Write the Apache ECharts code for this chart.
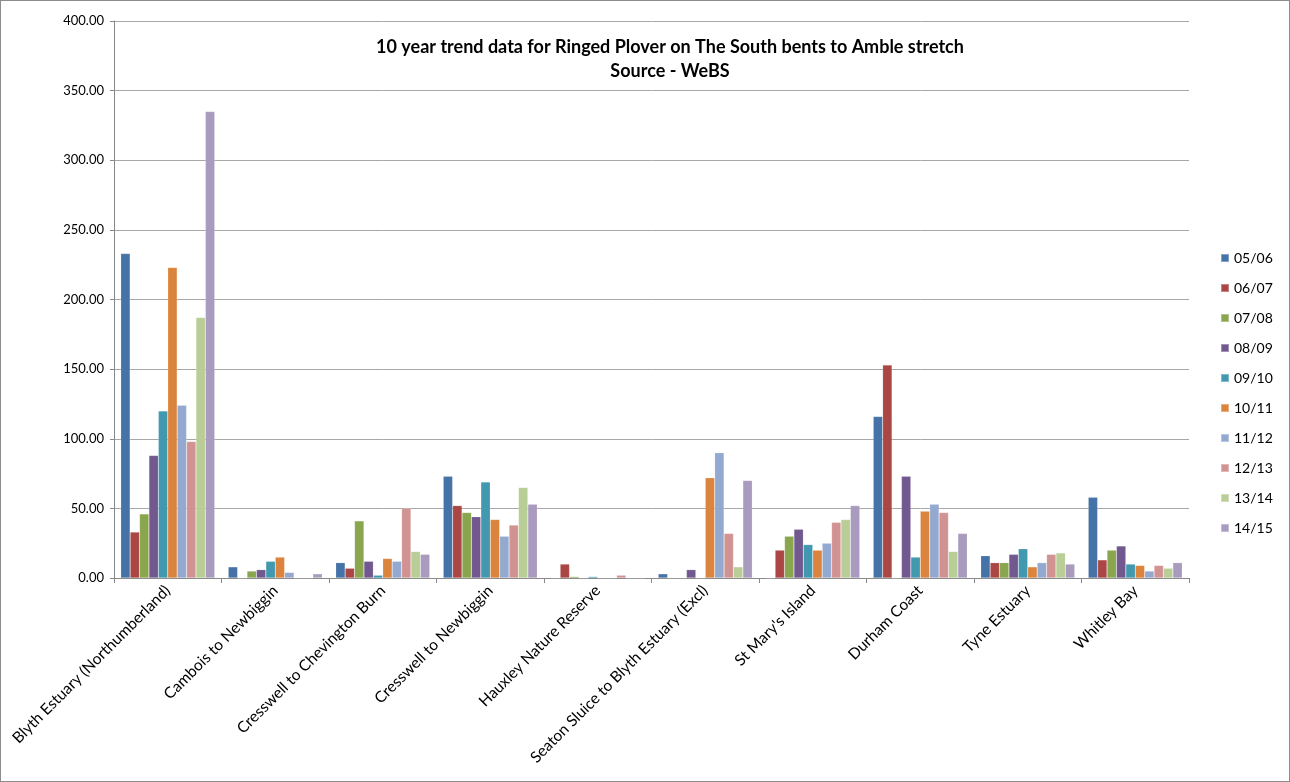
<!DOCTYPE html>
<html>
<head>
<meta charset="utf-8">
<script src="https://cdn.jsdelivr.net/npm/echarts@6/dist/echarts.min.js"></script>
<style>
  html, body { margin: 0; padding: 0; background: #fff; }
  #chart { width: 1288px; height: 780px; border: 1px solid #8c8c8c; }
</style>
</head>
<body>
<div id="chart"></div>
<script>
// Survey sites along the stretch
const sites = [
  'Blyth Estuary (Northumberland)',
  'Cambois to Newbiggin',
  'Cresswell to Chevington Burn',
  'Cresswell to Newbiggin',
  'Hauxley Nature Reserve',
  'Seaton Sluice to Blyth Estuary (Excl)',
  "St Mary's Island",
  'Durham Coast',
  'Tyne Estuary',
  'Whitley Bay'
];

// Winter seasons
const seasons = ['05/06', '06/07', '07/08', '08/09', '09/10', '10/11', '11/12', '12/13', '13/14', '14/15'];

// Ringed Plover counts per season, one value per site (same order as sites)
const s0506 = [233, 8, 11, 73, 0, 3, 0, 116, 16, 58];
const s0607 = [33, 0, 7, 52, 10, 0, 20, 153, 11, 13];
const s0708 = [46, 5, 41, 47, 1, 0, 30, 0, 11, 20];
const s0809 = [88, 6, 12, 44, 0, 6, 35, 73, 17, 23];
const s0910 = [120, 12, 2, 69, 1, 0, 24, 15, 21, 10];
const s1011 = [223, 15, 14, 42, 0, 72, 20, 48, 8, 9];
const s1112 = [124, 4, 12, 30, 0, 90, 25, 53, 11, 5];
const s1213 = [98, 0, 50, 38, 2, 32, 40, 47, 17, 9];
const s1314 = [187, 0, 19, 65, 0, 8, 42, 19, 18, 7];
const s1415 = [335, 3, 17, 53, 0, 70, 52, 32, 10, 11];

const seasonValues = [s0506, s0607, s0708, s0809, s0910, s1011, s1112, s1213, s1314, s1415];

// Y axis range
const yMin = 0, yMax = 400, yStep = 50;

const palette = ['#4572A7', '#AA4643', '#89A54E', '#71588F', '#4198AF',
                 '#DB843D', '#93A9CF', '#D19392', '#B9CD96', '#A99BBD'];

const font = 'Lato, "Open Sans", "Liberation Sans", sans-serif';

const chart = echarts.init(document.getElementById('chart'), null, { renderer: 'canvas' });

chart.setOption({
  animation: false,
  color: palette,
  textStyle: { fontFamily: font },
  grid: { left: 113, top: 20, right: 100, bottom: 203, containLabel: false },
  graphic: [
    {
      type: 'text', x: 669, y: 46,
      style: {
        text: '10 year trend data for Ringed Plover on The South bents to Amble stretch',
        fontFamily: font, fontSize: 18, fontWeight: 'bold', fill: '#000',
        textAlign: 'center', textVerticalAlign: 'middle'
      }
    },
    {
      type: 'text', x: 669, y: 70,
      style: {
        text: 'Source - WeBS',
        fontFamily: font, fontSize: 18, fontWeight: 'bold', fill: '#000',
        textAlign: 'center', textVerticalAlign: 'middle'
      }
    }
  ],
  legend: {
    orient: 'vertical',
    left: 1214, top: 245,
    itemWidth: 8, itemHeight: 8, itemGap: 16,
    icon: 'rect',
    textStyle: { fontFamily: font, fontSize: 14, color: '#000' },
    data: seasons
  },
  xAxis: {
    type: 'category',
    data: sites,
    axisLine: { lineStyle: { color: '#888', width: 1 } },
    axisTick: { show: true, alignWithLabel: false, length: 5, lineStyle: { color: '#888' } },
    axisLabel: {
      rotate: 45, interval: 0, margin: 10,
      fontFamily: font, fontSize: 15.5, color: '#000'
    }
  },
  yAxis: {
    type: 'value',
    min: yMin, max: yMax, interval: yStep,
    axisLine: { show: true, lineStyle: { color: '#888' } },
    axisTick: { show: true, length: 4, lineStyle: { color: '#888' } },
    splitLine: { lineStyle: { color: '#a8a8a8', width: 1 } },
    axisLabel: {
      margin: 10,
      fontFamily: font, fontSize: 13, color: '#000',
      formatter: v => v.toFixed(2)
    }
  },
  series: seasons.map((name, i) => ({
    name: name,
    type: 'bar',
    data: seasonValues[i],
    barGap: '0%',
    barCategoryGap: '12.5%',
    itemStyle: { color: palette[i], borderColor: 'rgba(255,255,255,0.35)', borderWidth: 0.5 }
  }))
});
</script>
</body>
</html>
